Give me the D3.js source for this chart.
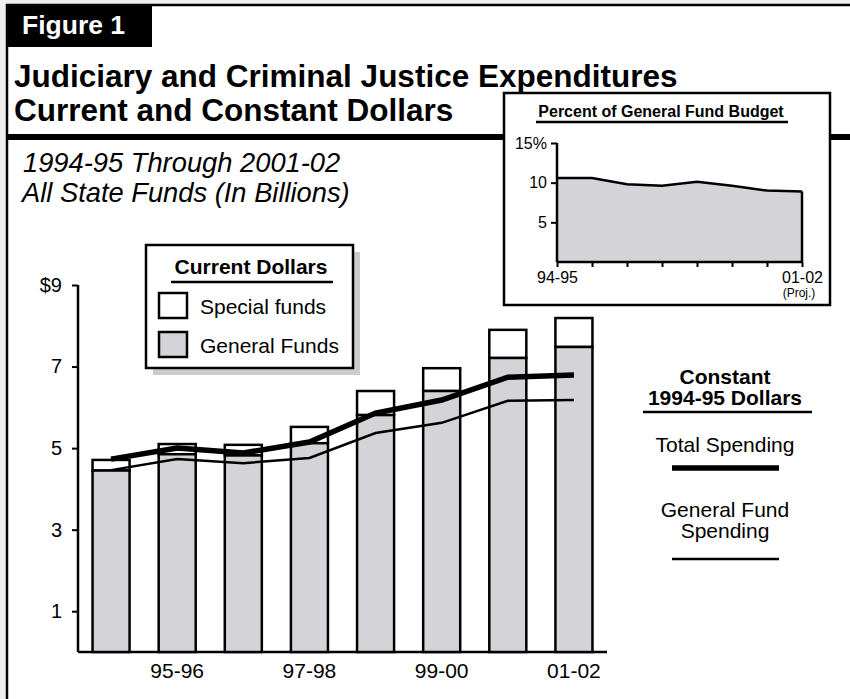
<!DOCTYPE html>
<html>
<head>
<meta charset="utf-8">
<script src="https://cdn.jsdelivr.net/npm/d3@7"></script>
<style>
  body { margin: 0; background: #eeeeee; }
  svg { display: block; font-family: "Liberation Sans", Arial, Helvetica, sans-serif; }
</style>
</head>
<body>
<svg id="chart" width="850" height="699"></svg>
<script>
// fiscal years and values (billions)
const years = ["94-95", "95-96", "96-97", "97-98", "98-99", "99-00", "00-01", "01-02"];
const generalFunds = [4.45, 4.85, 4.82, 5.12, 5.81, 6.40, 7.21, 7.48];
const specialFunds = [0.26, 0.25, 0.26, 0.40, 0.59, 0.56, 0.69, 0.71];
const constantTotal = [4.73, 5.00, 4.88, 5.15, 5.86, 6.18, 6.74, 6.79];
const constantGeneral = [4.46, 4.73, 4.63, 4.76, 5.37, 5.62, 6.16, 6.18];
const yTicks = [1, 3, 5, 7, 9];
const xLabels = ["95-96", "97-98", "99-00", "01-02"];

// inset: percent of general fund budget
const pctBudget = [10.6, 10.6, 9.8, 9.6, 10.1, 9.6, 9.0, 8.9];
const pctTicks = [5, 10, 15];

const gray = "#d4d4d8";
var svg = d3.select("#chart");

// white panel with frame
svg.append("rect")
  .attr("x", 7).attr("y", 5)
  .attr("width", 900).attr("height", 750)
  .attr("fill", "#fff")
  .attr("stroke", "#000")
  .attr("stroke-width", 2.5);

svg.append("rect")
  .attr("x", 7).attr("y", 5)
  .attr("width", 145).attr("height", 42)
  .attr("fill", "#000");
svg.append("text")
  .attr("x", 22).attr("y", 34)
  .attr("fill", "#fff")
  .style("font-size", "26.5px").style("font-weight", "bold")
  .text("Figure 1");

svg.append("text")
  .attr("x", 14).attr("y", 87)
  .style("font-size", "31.5px").style("font-weight", "bold")
  .text("Judiciary and Criminal Justice Expenditures");
svg.append("text")
  .attr("x", 14).attr("y", 121)
  .style("font-size", "31.5px").style("font-weight", "bold")
  .text("Current and Constant Dollars");

svg.append("line")
  .attr("x1", 7).attr("x2", 850)
  .attr("y1", 137).attr("y2", 137)
  .attr("stroke", "#000").attr("stroke-width", 6);

svg.append("text")
  .attr("x", 23).attr("y", 172)
  .style("font-size", "27.3px").style("font-style", "italic")
  .text("1994-95 Through 2001-02");
svg.append("text")
  .attr("x", 22).attr("y", 202)
  .style("font-size", "27.3px").style("font-style", "italic")
  .text("All State Funds (In Billions)");

// main chart scales
var x = d3.scaleBand().domain(years).range([78, 607]).paddingInner(0.44).paddingOuter(0.22);
var y = d3.scaleLinear().domain([0, 9]).range([652, 285]);

var g = svg.append("g");

var yAxis = g.append("g")
  .attr("transform", "translate(78,0)")
  .call(d3.axisLeft(y).tickValues(yTicks).tickSize(6).tickPadding(10)
    .tickFormat(d => d === 9 ? "$9" : d));
yAxis.select(".domain").attr("d", "M0," + y(9) + "V" + y(0)).attr("stroke-width", 2.5);
yAxis.selectAll(".tick line").attr("stroke-width", 2);
yAxis.selectAll("text").style("font-size", "20px").style("font-family", "inherit");

var xAxis = g.append("g")
  .attr("transform", "translate(0,652)")
  .call(d3.axisBottom(x).tickSize(0).tickPadding(11)
    .tickFormat(d => xLabels.includes(d) ? d : ""));
xAxis.select(".domain").attr("d", "M78,0H607").attr("stroke-width", 2.5);
xAxis.selectAll("text").style("font-size", "21px").style("font-family", "inherit");

// bars: general funds at bottom, special funds on top
years.forEach((yr, i) => {
  var total = generalFunds[i] + specialFunds[i];
  g.append("rect")
    .attr("x", x(yr)).attr("width", x.bandwidth())
    .attr("y", y(total)).attr("height", y(generalFunds[i]) - y(total))
    .attr("fill", "#fff").attr("stroke", "#000").attr("stroke-width", 2.5);
  g.append("rect")
    .attr("x", x(yr)).attr("width", x.bandwidth())
    .attr("y", y(generalFunds[i])).attr("height", y(0) - y(generalFunds[i]))
    .attr("fill", gray).attr("stroke", "#000").attr("stroke-width", 2.5);
});

var line = d3.line()
  .x((d, i) => x(years[i]) + x.bandwidth() / 2)
  .y(d => y(d));

g.append("path").datum(constantGeneral)
  .attr("fill", "none").attr("stroke", "#000").attr("stroke-width", 2.5)
  .attr("d", line);
g.append("path").datum(constantTotal)
  .attr("fill", "none").attr("stroke", "#000").attr("stroke-width", 5.5)
  .attr("d", line);

// current dollars legend
var leg = svg.append("g");
leg.append("rect")
  .attr("x", 153).attr("y", 252).attr("width", 207).attr("height", 123)
  .attr("fill", "#cccccc");
leg.append("rect")
  .attr("x", 146).attr("y", 245).attr("width", 207).attr("height", 123)
  .attr("fill", "#fff").attr("stroke", "#000").attr("stroke-width", 2.5);
leg.append("text")
  .attr("x", 251).attr("y", 274).attr("text-anchor", "middle")
  .style("font-size", "21px").style("font-weight", "bold")
  .text("Current Dollars");
leg.append("line")
  .attr("x1", 171).attr("x2", 333).attr("y1", 282).attr("y2", 282)
  .attr("stroke", "#000").attr("stroke-width", 2.5);
[["Special funds", "#fff", 293], ["General Funds", gray, 332]].forEach(d => {
  leg.append("rect")
    .attr("x", 159).attr("y", d[2]).attr("width", 28).attr("height", 25)
    .attr("fill", d[1]).attr("stroke", "#000").attr("stroke-width", 2.5);
  leg.append("text")
    .attr("x", 200).attr("y", d[2] + 21)
    .style("font-size", "21px")
    .text(d[0]);
});

// constant dollars legend
var leg2 = svg.append("g").attr("text-anchor", "middle");
leg2.append("text").attr("x", 725).attr("y", 384)
  .style("font-size", "21px").style("font-weight", "bold").text("Constant");
leg2.append("text").attr("x", 725).attr("y", 405)
  .style("font-size", "21px").style("font-weight", "bold").text("1994-95 Dollars");
leg2.append("line").attr("x1", 643).attr("x2", 812).attr("y1", 412).attr("y2", 412)
  .attr("stroke", "#000").attr("stroke-width", 2.5);
leg2.append("text").attr("x", 725).attr("y", 452)
  .style("font-size", "21px").text("Total Spending");
leg2.append("line").attr("x1", 672).attr("x2", 779).attr("y1", 468).attr("y2", 468)
  .attr("stroke", "#000").attr("stroke-width", 5.5);
leg2.append("text").attr("x", 725).attr("y", 517)
  .style("font-size", "21px").text("General Fund");
leg2.append("text").attr("x", 725).attr("y", 538)
  .style("font-size", "21px").text("Spending");
leg2.append("line").attr("x1", 672).attr("x2", 779).attr("y1", 559).attr("y2", 559)
  .attr("stroke", "#000").attr("stroke-width", 2.5);

// inset chart
var inset = svg.append("g");
inset.append("rect")
  .attr("x", 504).attr("y", 93).attr("width", 326).attr("height", 212)
  .attr("fill", "#fff").attr("stroke", "#000").attr("stroke-width", 2.5);
inset.append("text")
  .attr("x", 661).attr("y", 117).attr("text-anchor", "middle")
  .style("font-size", "16px").style("font-weight", "bold")
  .text("Percent of General Fund Budget");
inset.append("line")
  .attr("x1", 536).attr("x2", 788).attr("y1", 122).attr("y2", 122)
  .attr("stroke", "#000").attr("stroke-width", 2.5);

var ix = d3.scalePoint().domain(years).range([557, 802]);
var iy = d3.scaleLinear().domain([0, 15]).range([262, 143]);

var area = d3.area()
  .x((d, i) => ix(years[i]))
  .y0(iy(0))
  .y1(d => iy(d));
inset.append("path").datum(pctBudget)
  .attr("fill", gray).attr("stroke", "none")
  .attr("d", area);
var topLine = d3.line()
  .x((d, i) => ix(years[i]))
  .y(d => iy(d));
inset.append("path").datum(pctBudget)
  .attr("fill", "none").attr("stroke", "#000").attr("stroke-width", 2.5)
  .attr("d", topLine);
inset.append("line")
  .attr("x1", ix("01-02")).attr("x2", ix("01-02"))
  .attr("y1", iy(pctBudget[pctBudget.length - 1])).attr("y2", iy(0))
  .attr("stroke", "#000").attr("stroke-width", 2.5);

var iyAxis = inset.append("g")
  .attr("transform", "translate(557,0)")
  .call(d3.axisLeft(iy).tickValues(pctTicks).tickSize(6).tickPadding(4)
    .tickFormat(d => d === 15 ? "15%" : d));
iyAxis.select(".domain").attr("d", "M0," + iy(15) + "V" + iy(0)).attr("stroke-width", 2.5);
iyAxis.selectAll(".tick line").attr("stroke-width", 2);
iyAxis.selectAll("text").style("font-size", "16px").style("font-family", "inherit");

var ixAxis = inset.append("g")
  .attr("transform", "translate(0," + iy(0) + ")")
  .call(d3.axisBottom(ix).tickSize(5).tickPadding(5)
    .tickFormat(d => d === "94-95" || d === "01-02" ? d : ""));
ixAxis.select(".domain").attr("d", "M557,0H802").attr("stroke-width", 2.5);
ixAxis.selectAll(".tick line").attr("stroke-width", 2);
ixAxis.selectAll("text").style("font-size", "16px").style("font-family", "inherit");

inset.append("text")
  .attr("x", 799).attr("y", 297).attr("text-anchor", "middle")
  .style("font-size", "12px")
  .text("(Proj.)");
</script>
</body>
</html>
